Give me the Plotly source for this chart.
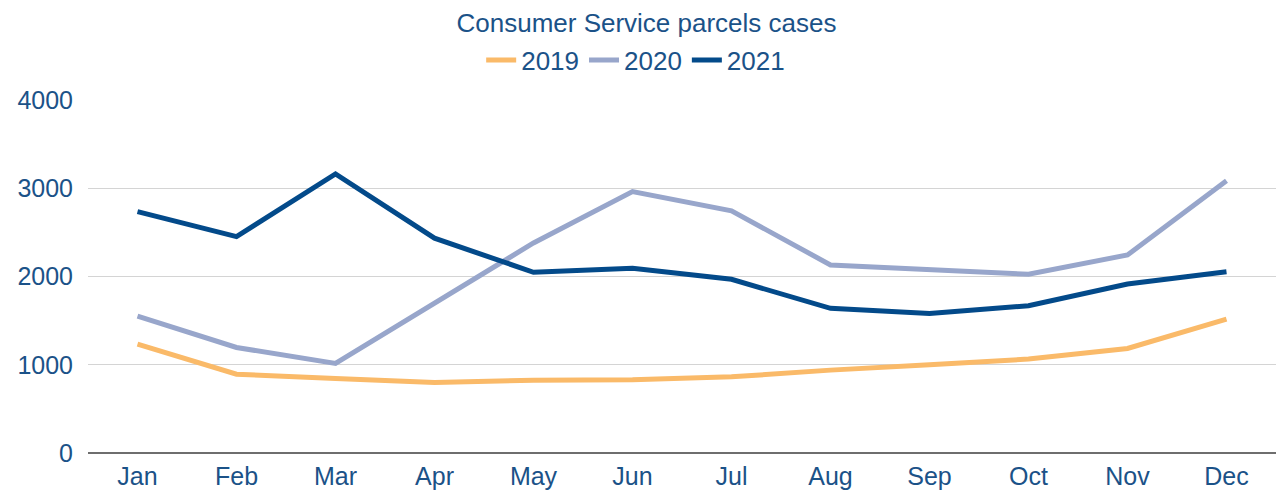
import plotly.graph_objects as go

months = ["Jan", "Feb", "Mar", "Apr", "May", "Jun", "Jul", "Aug", "Sep", "Oct", "Nov", "Dec"]
s2019 = [1234, 893, 844, 799, 825, 830, 863, 939, 1000, 1064, 1185, 1518]
s2020 = [1552, 1196, 1015, 1700, 2380, 2963, 2744, 2131, 2082, 2025, 2244, 3084]
s2021 = [2735, 2452, 3163, 2434, 2048, 2093, 1968, 1639, 1582, 1669, 1915, 2055]

series = [("2019", s2019, "#FABA69"), ("2020", s2020, "#98A6CB"), ("2021", s2021, "#034A8A")]
text_color = "#1B5288"
font_family = "Liberation Sans, Arial, sans-serif"

fig = go.Figure()
for name, vals, col in series:
    fig.add_trace(go.Scatter(x=months, y=vals, name=name, mode="lines",
                             line=dict(color=col, width=5)))

fig.update_layout(
    width=1281, height=491,
    margin=dict(l=88, r=5, t=100, b=38),
    plot_bgcolor="white", paper_bgcolor="white",
    font=dict(family=font_family, color=text_color, size=25),
    title=dict(text="Consumer Service parcels cases", x=646.5 / 1281, xanchor="center",
               y=1 - 23 / 491, yanchor="middle",
               font=dict(size=26, color=text_color, family=font_family)),
    legend=dict(orientation="h", x=0.461, xanchor="center", y=1.113, yanchor="middle",
                font=dict(size=26, color=text_color), itemwidth=30,
                bgcolor="rgba(0,0,0,0)"),
    showlegend=True,
)
fig.update_xaxes(range=[-0.5, 11.5], showgrid=False, showline=False, ticks="",
                 tickfont=dict(size=25), zeroline=False, ticklabelstandoff=6,
                 automargin=False)
fig.update_yaxes(range=[0, 4000], tickvals=[0, 1000, 2000, 3000, 4000],
                 showgrid=True, gridcolor="#D4D4D4", gridwidth=1,
                 zeroline=True, zerolinecolor="#6E6E6E", zerolinewidth=2,
                 showline=False, ticks="", tickfont=dict(size=25), ticklabelstandoff=14,
                 automargin=False)

fig.write_html("out.html")
